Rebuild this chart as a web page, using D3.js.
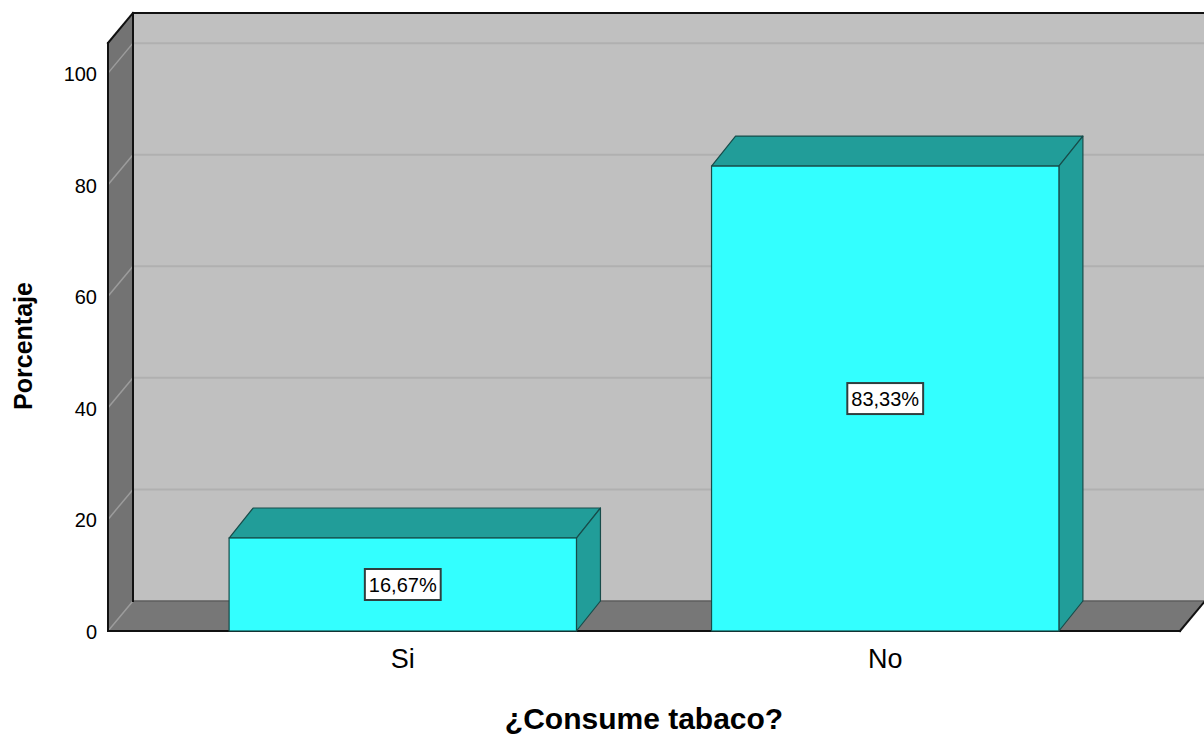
<!DOCTYPE html>
<html>
<head>
<meta charset="utf-8">
<script src="https://cdn.jsdelivr.net/npm/d3@7"></script>
<style>
  html, body { margin: 0; padding: 0; background: #ffffff; }
  svg { display: block; }
  text { font-family: "Liberation Sans", Arial, sans-serif; fill: #000; }
</style>
</head>
<body>
<svg id="chart" width="1204" height="734"></svg>
<script>
// Smoking survey: share of respondents by answer
const categories = ["Si", "No"];
const percentages = [16.67, 83.33];
const yTicks = [0, 20, 40, 60, 80, 100];
const xTitle = "¿Consume tabaco?";
const yTitle = "Porcentaje";

const svg = d3.select("#chart");

// front plane of the 3D box, with the back plane shifted by (DX, -DY)
const DX = 25, DY = 30;
const plotLeft = 108, plotRight = 1180, plotBase = 631, plotTop = 43;

const y = d3.scaleLinear().domain([0, 105.4]).range([plotBase, plotTop]);
const x = d3.scaleBand().domain(categories).range([plotLeft, plotRight])
  .paddingInner(0.28).paddingOuter(0.251);

const poly = pts => pts.map(p => p.join(",")).join(" ");

// back wall
svg.append("rect")
  .attr("x", plotLeft + DX).attr("y", plotTop - DY)
  .attr("width", 1260 - plotLeft - DX).attr("height", plotBase - plotTop)
  .attr("fill", "#c0c0c0");

// side wall
svg.append("polygon")
  .attr("points", poly([[plotLeft, plotTop], [plotLeft + DX, plotTop - DY], [plotLeft + DX, plotBase - DY], [plotLeft, plotBase]]))
  .attr("fill", "#737373");

// floor
svg.append("polygon")
  .attr("points", poly([[plotLeft, plotBase], [plotRight, plotBase], [plotRight + DX, plotBase - DY], [plotLeft + DX, plotBase - DY]]))
  .attr("fill", "#777777");

// gridlines on back wall and side wall
const grid = svg.append("g");
grid.selectAll("line.back").data(yTicks.filter(t => t > 0)).join("line")
  .attr("class", "back")
  .attr("x1", plotLeft + DX).attr("x2", 1210)
  .attr("y1", d => y(d) - DY).attr("y2", d => y(d) - DY)
  .attr("stroke", "#b0b0b0").attr("stroke-width", 2);
grid.selectAll("line.side").data(yTicks).join("line")
  .attr("class", "side")
  .attr("x1", plotLeft).attr("x2", plotLeft + DX)
  .attr("y1", d => y(d)).attr("y2", d => y(d) - DY)
  .attr("stroke", "#9c9c9c").attr("stroke-width", 1.5);

// back wall / floor seam
svg.append("line")
  .attr("x1", plotLeft + DX).attr("x2", 1210)
  .attr("y1", plotBase - DY).attr("y2", plotBase - DY)
  .attr("stroke", "#5e5e5e").attr("stroke-width", 1.5);

// box outlines
const edges = [
  [[plotLeft, plotTop], [plotLeft, plotBase]],
  [[plotLeft, plotTop], [plotLeft + DX, plotTop - DY]],
  [[plotLeft + DX, plotTop - DY], [plotLeft + DX, plotBase - DY]],
  [[plotLeft + DX, plotTop - DY], [1210, plotTop - DY]],
  [[plotLeft, plotBase], [plotRight, plotBase]],
  [[plotRight, plotBase], [plotRight + DX, plotBase - DY]]
];
svg.append("g").selectAll("line").data(edges).join("line")
  .attr("x1", d => d[0][0]).attr("y1", d => d[0][1])
  .attr("x2", d => d[1][0]).attr("y2", d => d[1][1])
  .attr("stroke", "#111").attr("stroke-width", 2).attr("stroke-linecap", "square");

// bars
const BDX = 24, BDY = 30;
const bars = svg.append("g").selectAll("g").data(categories.map((c, i) => ({ c, v: percentages[i] }))).join("g");
bars.each(function (d) {
  const g = d3.select(this);
  const x0 = x(d.c), x1 = x(d.c) + x.bandwidth(), yv = y(d.v), y0 = y(0);
  g.append("polygon")
    .attr("points", poly([[x0, yv], [x0 + BDX, yv - BDY], [x1 + BDX, yv - BDY], [x1, yv]]))
    .attr("fill", "#219d99").attr("stroke", "#174c4a").attr("stroke-width", 1.2).attr("stroke-linejoin", "round");
  g.append("polygon")
    .attr("points", poly([[x1, yv], [x1 + BDX, yv - BDY], [x1 + BDX, y0 - BDY], [x1, y0]]))
    .attr("fill", "#219d99").attr("stroke", "#174c4a").attr("stroke-width", 1.2).attr("stroke-linejoin", "round");
  g.append("rect")
    .attr("x", x0).attr("y", yv).attr("width", x1 - x0).attr("height", y0 - yv)
    .attr("fill", "#33ffff").attr("stroke", "#174c4a").attr("stroke-width", 1.2);

  // value label in a white box at the middle of the front face
  const cx = (x0 + x1) / 2, cy = (yv + y0) / 2;
  const label = d.v.toFixed(2).replace(".", ",") + "%";
  const box = g.append("rect").attr("fill", "#fff").attr("stroke", "#2f3f3f").attr("stroke-width", 2);
  const t = g.append("text")
    .attr("x", cx).attr("y", cy + 7.5)
    .attr("text-anchor", "middle").style("font-size", "20px")
    .text(label);
  const w = t.node().getComputedTextLength();
  box.attr("x", cx - w / 2 - 4).attr("y", cy - 15.5).attr("width", w + 8).attr("height", 31);
});

// y tick labels
svg.append("g").selectAll("text").data(yTicks).join("text")
  .attr("x", 97).attr("y", d => y(d) + 8)
  .attr("text-anchor", "end").style("font-size", "20px")
  .text(d => d);

// category labels
svg.append("g").selectAll("text").data(categories).join("text")
  .attr("x", d => x(d) + x.bandwidth() / 2).attr("y", 668)
  .attr("text-anchor", "middle").style("font-size", "27px")
  .text(d => d);

// axis titles
svg.append("text")
  .attr("x", 644).attr("y", 729)
  .attr("text-anchor", "middle").style("font-size", "30px").style("font-weight", "bold")
  .text(xTitle);
svg.append("text")
  .attr("transform", "translate(32,346) rotate(-90)")
  .attr("text-anchor", "middle").style("font-size", "25px").style("font-weight", "bold")
  .text(yTitle);
</script>
</body>
</html>
